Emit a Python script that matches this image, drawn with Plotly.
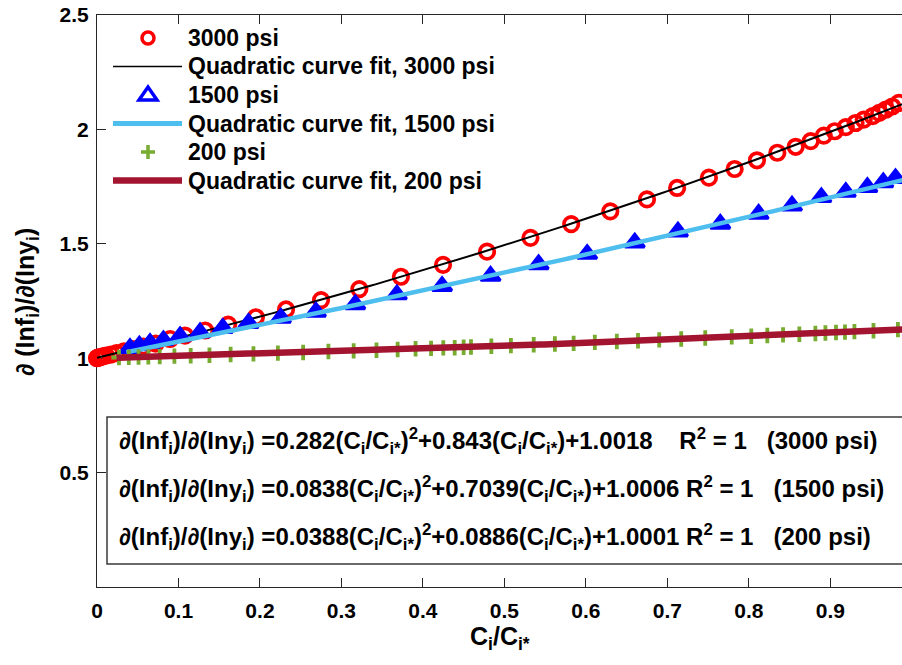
import numpy as np
import plotly.graph_objects as go

# ---- measured points -------------------------------------------------------
x_3000 = [0.000, 0.001, 0.002, 0.004, 0.007, 0.011, 0.017, 0.024, 0.033, 0.044,
          0.057, 0.072, 0.0897, 0.108, 0.1327, 0.161, 0.195, 0.232, 0.275, 0.322,
          0.373, 0.4247, 0.4787, 0.532, 0.582, 0.630, 0.675, 0.712, 0.751, 0.7826,
          0.810, 0.835, 0.8575, 0.876, 0.892, 0.9054, 0.919, 0.931, 0.941, 0.952,
          0.960, 0.968, 0.976, 0.984, 0.992, 1.000]
y_3000 = [1.000, 1.002, 1.003, 1.005, 1.008, 1.011, 1.016, 1.022, 1.030, 1.040,
          1.051, 1.064, 1.084, 1.099, 1.121, 1.147, 1.179, 1.213, 1.254, 1.302,
          1.356, 1.408, 1.466, 1.526, 1.586, 1.642, 1.694, 1.744, 1.789, 1.827,
          1.865, 1.898, 1.924, 1.949, 1.973, 1.992, 2.010, 2.028, 2.043, 2.058,
          2.072, 2.086, 2.100, 2.116, 2.128, 2.143]

x_1500 = [0.0405, 0.052, 0.0651, 0.0815, 0.102, 0.1265, 0.1544, 0.186, 0.2257,
          0.2687, 0.317, 0.368, 0.4235, 0.483, 0.542, 0.6016, 0.660, 0.713, 0.765,
          0.812, 0.853, 0.889, 0.919, 0.9455, 0.965, 0.980, 0.992]
y_1500 = [1.044, 1.055, 1.066, 1.078, 1.095, 1.112, 1.131, 1.153, 1.176, 1.202,
          1.235, 1.278, 1.315, 1.359, 1.410, 1.455, 1.505, 1.553, 1.587, 1.630,
          1.666, 1.703, 1.726, 1.747, 1.768, 1.786, 1.796]

x_200 = [0.027, 0.039, 0.051, 0.063, 0.077, 0.095, 0.115, 0.138, 0.164, 0.192,
         0.222, 0.253, 0.284, 0.315, 0.343, 0.369, 0.391, 0.410, 0.425, 0.439,
         0.450, 0.459, 0.484, 0.508, 0.536, 0.562, 0.585, 0.611, 0.638, 0.664,
         0.690, 0.717, 0.7465, 0.779, 0.803, 0.8227, 0.842, 0.862, 0.8817, 0.894,
         0.907, 0.918, 0.9296, 0.953, 0.983]
y_200 = [1.003, 1.004, 1.005, 1.006, 1.007, 1.009, 1.011, 1.013, 1.016, 1.019,
         1.022, 1.025, 1.029, 1.032, 1.035, 1.038, 1.041, 1.043, 1.045, 1.046,
         1.048, 1.049, 1.052, 1.055, 1.059, 1.062, 1.065, 1.069, 1.073, 1.076,
         1.080, 1.084, 1.088, 1.093, 1.096, 1.099, 1.102, 1.105, 1.108, 1.110,
         1.112, 1.114, 1.116, 1.120, 1.125]

# quadratic fit coefficients [a, b, c] of a*x^2 + b*x + c
fit_3000 = ["0.282", "0.843", "1.0018"]
fit_1500 = ["0.0838", "0.7039", "1.0006"]
fit_200 = ["0.0388", "0.0886", "1.0001"]
r_squared = ["1", "1", "1"]
pressures = ["3000 psi", "1500 psi", "200 psi"]
fit_x_end = 1.0

legend_labels = ["3000 psi", "Quadratic curve fit, 3000 psi",
                 "1500 psi", "Quadratic curve fit, 1500 psi",
                 "200 psi", "Quadratic curve fit, 200 psi"]

x_tick_vals = [0, 0.1, 0.2, 0.3, 0.4, 0.5, 0.6, 0.7, 0.8, 0.9, 1.0]
y_tick_vals = [0.5, 1, 1.5, 2, 2.5]
x_range = [0, 0.988]
y_range = [0, 2.5]

# ---- styling ---------------------------------------------------------------
FONT = "Liberation Sans, Arial, sans-serif"
RED = "#FF0000"
BLUE = "#0000FF"
CYAN = "#4DBEEE"
GREEN = "#77AC30"
MAROON = "#A2142F"
AXIS = "#262626"

W, H = 902, 665
PL, PR, PT, PB = 97, 902, 15, 587  # plot area in pixels


def xp(px):
    return (px - PL) / (PR - PL)


def yp(py):
    return (PB - py) / (PB - PT)


def fit_curve(coefs, x0):
    a, b, c = (float(v) for v in coefs)
    xs = np.linspace(x0, fit_x_end, 200)
    return xs, a * xs ** 2 + b * xs + c


fig = go.Figure()

fig.add_trace(go.Scatter(
    x=x_3000, y=y_3000, mode="markers", cliponaxis=False, showlegend=False,
    marker=dict(symbol="circle-open", size=14.5, color=RED,
                line=dict(color=RED, width=3.7))))
fx, fy = fit_curve(fit_3000, min(x_3000))
fig.add_trace(go.Scatter(x=fx, y=fy, mode="lines", showlegend=False,
                         line=dict(color="black", width=2)))

fig.add_trace(go.Scatter(
    x=x_1500, y=y_1500, mode="markers", cliponaxis=False, showlegend=False,
    marker=dict(symbol="triangle-up", size=17, color=BLUE,
                line=dict(color=BLUE, width=3))))
fx, fy = fit_curve(fit_1500, 0.036)
fig.add_trace(go.Scatter(x=fx, y=fy, mode="lines", showlegend=False,
                         line=dict(color=CYAN, width=4.5)))

fig.add_trace(go.Scatter(
    x=x_200, y=y_200, mode="markers", cliponaxis=False, showlegend=False,
    marker=dict(symbol="cross-thin", size=11, color=GREEN,
                line=dict(color=GREEN, width=3.8))))
fx, fy = fit_curve(fit_200, 0.024)
fig.add_trace(go.Scatter(x=fx, y=fy, mode="lines", showlegend=False,
                         line=dict(color=MAROON, width=6.5)))

shapes = []
annotations = []

# ---- legend (drawn in the top-left corner of the axes) ---------------------
leg_rows = [38, 66.5, 95, 123.5, 152, 180.5]
sym_x = 148
line_x0, line_x1 = 113, 182
text_x = 186

# circle
shapes.append(dict(type="circle", xref="paper", yref="paper",
                   xsizemode="pixel", ysizemode="pixel",
                   xanchor=xp(sym_x), yanchor=yp(leg_rows[0]),
                   x0=-6, x1=6, y0=-6, y1=6,
                   line=dict(color=RED, width=3.5)))
# black line
shapes.append(dict(type="line", xref="paper", yref="paper",
                   x0=xp(line_x0), x1=xp(line_x1), y0=yp(leg_rows[1]), y1=yp(leg_rows[1]),
                   line=dict(color="black", width=1.5)))
# triangle
shapes.append(dict(type="path", xref="paper", yref="paper",
                   xsizemode="pixel", ysizemode="pixel",
                   xanchor=xp(sym_x), yanchor=yp(leg_rows[2]),
                   path="M-9,-5 L9,-5 L0,8 Z",
                   line=dict(color=BLUE, width=3.5)))
# cyan line
shapes.append(dict(type="line", xref="paper", yref="paper",
                   x0=xp(line_x0), x1=xp(line_x1), y0=yp(leg_rows[3]), y1=yp(leg_rows[3]),
                   line=dict(color=CYAN, width=5)))
# plus
shapes.append(dict(type="path", xref="paper", yref="paper",
                   xsizemode="pixel", ysizemode="pixel",
                   xanchor=xp(sym_x), yanchor=yp(leg_rows[4]),
                   path="M-7,0 H7 M0,-7 V7",
                   line=dict(color=GREEN, width=3.5)))
# maroon line
shapes.append(dict(type="line", xref="paper", yref="paper",
                   x0=xp(line_x0), x1=xp(line_x1), y0=yp(leg_rows[5]), y1=yp(leg_rows[5]),
                   line=dict(color=MAROON, width=6.5)))

for label, ry in zip(legend_labels, leg_rows):
    annotations.append(dict(text=f"<b>{label}</b>", xref="paper", yref="paper",
                            x=xp(text_x), y=yp(ry), xanchor="left", yanchor="middle",
                            showarrow=False, font=dict(family=FONT, size=23, color="black")))

# ---- equation box ----------------------------------------------------------
shapes.append(dict(type="rect", xref="paper", yref="paper",
                   x0=xp(107), x1=xp(915), y0=yp(564), y1=yp(417),
                   line=dict(color="#3a3a3a", width=1.5), fillcolor="white", layer="above"))

NB = "\u00a0"
ratio = "(C<sub>i</sub>/C<sub>i*</sub>)"
gaps = [NB * 4, NB, NB]
eq_rows = [441, 489, 537]
for coefs, r2, p, gap, ry in zip([fit_3000, fit_1500, fit_200], r_squared, pressures, gaps, eq_rows):
    txt = (f"<b>∂(Inf<sub>i</sub>)/∂(Iny<sub>i</sub>) ={coefs[0]}{ratio}<sup>2</sup>"
           f"+{coefs[1]}{ratio}+{coefs[2]}{gap}R<sup>2</sup> = {r2}{NB*3}({p})</b>")
    annotations.append(dict(text=txt, xref="paper", yref="paper",
                            x=xp(117), y=yp(ry), xanchor="left", yanchor="middle",
                            showarrow=False, font=dict(family=FONT, size=24, color="black")))

# ---- axis titles -----------------------------------------------------------
annotations.append(dict(text="<b>C<sub>i</sub>/C<sub>i*</sub></b>", xref="paper", yref="paper",
                        x=xp(500), y=yp(638), xanchor="center", yanchor="middle",
                        showarrow=False, font=dict(family=FONT, size=25, color="black")))
annotations.append(dict(text="<b>∂ (Inf<sub>i</sub>)/∂(Iny<sub>i</sub>)</b>", xref="paper", yref="paper",
                        x=xp(27), y=yp(302), xanchor="center", yanchor="middle", textangle=-90,
                        showarrow=False, font=dict(family=FONT, size=25, color="black")))

fig.update_layout(
    width=W, height=H,
    margin=dict(l=PL, r=W - PR, t=PT, b=H - PB, autoexpand=False),
    paper_bgcolor="white", plot_bgcolor="white",
    showlegend=False,
    shapes=shapes, annotations=annotations,
    font=dict(family=FONT, color="black"),
)
fig.update_xaxes(range=x_range, tickvals=x_tick_vals,
                 ticktext=[f"{v:g}" for v in x_tick_vals],
                 showline=True, linecolor=AXIS, linewidth=1, mirror="ticks",
                 ticks="inside", ticklen=9, tickwidth=1, tickcolor=AXIS,
                 showgrid=False, zeroline=False, layer="below traces",
                 tickfont=dict(family=FONT, size=21, color="black", weight="bold"),
                 ticklabelstandoff=5)
fig.update_yaxes(range=y_range, tickvals=y_tick_vals,
                 ticktext=[f"{v:g}" for v in y_tick_vals],
                 showline=True, linecolor=AXIS, linewidth=1, mirror=False,
                 ticks="inside", ticklen=9, tickwidth=1, tickcolor=AXIS,
                 showgrid=False, zeroline=False, layer="below traces",
                 tickfont=dict(family=FONT, size=21, color="black", weight="bold"),
                 ticklabelstandoff=3)

fig.write_html("out.html")
